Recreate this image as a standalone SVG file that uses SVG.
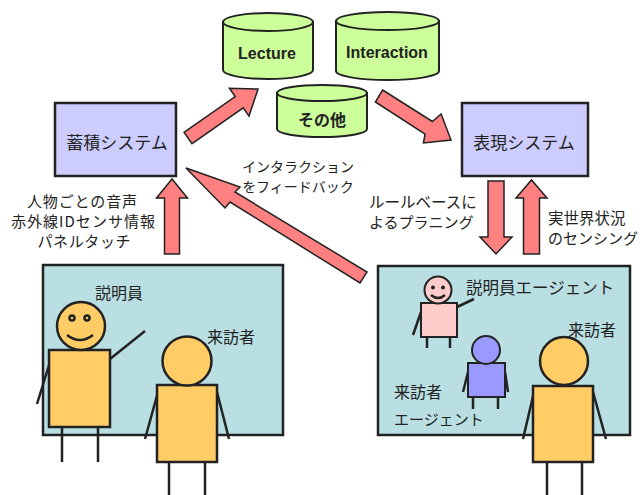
<svg xmlns="http://www.w3.org/2000/svg" width="640" height="495" viewBox="0 0 640 495">
  <style>
    .jp { font-family: "Noto Sans CJK JP", "Noto Sans", sans-serif; fill: #222; }
    .en { font-family: "Liberation Sans", Arial, sans-serif; font-weight: bold; fill: #222; }
    .sys { fill: #ccccff; stroke: #222; stroke-width: 2.5; }
    .db { fill: #ccff99; stroke: #222; stroke-width: 2; }
    .panel { fill: #b9dfe2; stroke: #222; stroke-width: 2.5; }
    .flow { fill: #ff8080; stroke: #222; stroke-width: 1.5; stroke-linejoin: miter; }
    .limb { stroke: #222; stroke-width: 2.5; fill: none; stroke-linecap: butt; }
    .human { fill: #ffcc66; stroke: #222; stroke-width: 2.5; }
    .guide { fill: #ffcccc; stroke: #222; stroke-width: 2; }
    .guest { fill: #9999ff; stroke: #222; stroke-width: 2; }
  </style>

  <!-- data stores -->
  <g id="db-lecture">
    <path class="db" d="M223,22 L223,70 A45,9 0 0 0 313,70 L313,22 Z"/>
    <ellipse class="db" cx="268" cy="22" rx="45" ry="9"/>
    <text class="en" x="267" y="59" font-size="16" text-anchor="middle">Lecture</text>
  </g>
  <g id="db-interaction">
    <path class="db" d="M336,21 L336,71 A51.5,9 0 0 0 439,71 L439,21 Z"/>
    <ellipse class="db" cx="387.5" cy="21" rx="51.5" ry="9"/>
    <text class="en" x="387" y="58" font-size="16" text-anchor="middle">Interaction</text>
  </g>
  <g id="db-other">
    <path class="db" d="M277,93 L277,129 A45,8 0 0 0 367,129 L367,93 Z"/>
    <ellipse class="db" cx="322" cy="93" rx="45" ry="8"/>
    <text class="jp" x="322" y="126" font-size="16" font-weight="bold" text-anchor="middle">その他</text>
  </g>

  <!-- systems -->
  <g id="store-system">
    <rect class="sys" x="55" y="103" width="121" height="73"/>
    <text class="jp" x="117" y="148.5" font-size="17" text-anchor="middle">蓄積システム</text>
  </g>
  <g id="render-system">
    <rect class="sys" x="462" y="103" width="126" height="73"/>
    <text class="jp" x="524" y="148.5" font-size="17" text-anchor="middle">表現システム</text>
  </g>

  <!-- flows between parts -->
  <g id="connectors">
    <polygon class="flow" points="184,132.3 235.2,96.5 229.4,88.3 258,89 249,116.1 243.2,107.9 192,143.7"/>
    <polygon class="flow" points="382.6,90 432.4,121.5 441.1,114 451,140 423.4,143 425.1,134 375.4,102"/>
    <polygon class="flow" points="164.5,254 164.5,198 156.5,198 172,179 187.5,198 179.5,198 179.5,254"/>
    <polygon class="flow" points="186,168 240,187 235,192 367,272 360,283 230,202 225,208"/>
    <polygon class="flow" points="488,181 504,181 504,237 512,237 496,254 480,237 488,237"/>
    <polygon class="flow" points="523.5,254 523.5,198 516,198 531.5,180 547,198 539.5,198 539.5,254"/>
  </g>

  <!-- flow labels -->
  <g id="labels">
    <text class="jp" x="82" y="207" font-size="15" text-anchor="middle" textLength="110" lengthAdjust="spacing">人物ごとの音声</text>
    <text class="jp" x="83" y="227" font-size="15" text-anchor="middle" textLength="144" lengthAdjust="spacing">赤外線IDセンサ情報</text>
    <text class="jp" x="84" y="247" font-size="15" text-anchor="middle" textLength="93" lengthAdjust="spacing">パネルタッチ</text>
    <text class="jp" x="298" y="172" font-size="14" text-anchor="middle">インタラクション</text>
    <text class="jp" x="298" y="192" font-size="14" text-anchor="middle">をフィードバック</text>
    <text class="jp" x="369" y="208" font-size="15.5">ルールベースに</text>
    <text class="jp" x="369" y="228" font-size="15">よるプラニング</text>
    <text class="jp" x="548" y="224" font-size="15.5">実世界状況</text>
    <text class="jp" x="548" y="244" font-size="15">のセンシング</text>
  </g>

  <!-- real exhibition space -->
  <g id="real-space">
    <rect class="panel" x="43" y="265" width="240" height="170"/>
    <text class="jp" x="119" y="299" font-size="16" text-anchor="middle">説明員</text>
    <text class="jp" x="207" y="343" font-size="16">来訪者</text>
    <!-- guide -->
    <line class="limb" x1="62" y1="427" x2="62" y2="462"/>
    <line class="limb" x1="98" y1="427" x2="98" y2="462"/>
    <line class="limb" x1="50" y1="362" x2="37" y2="404"/>
    <line class="limb" x1="110" y1="359" x2="145" y2="331"/>
    <rect class="human" x="49" y="350" width="61" height="77"/>
    <circle class="human" cx="81" cy="326" r="24"/>
    <circle class="human" cx="72" cy="318" r="2.5" stroke-width="1.8"/>
    <circle class="human" cx="87" cy="318" r="2.5" stroke-width="1.8"/>
    <path class="limb" d="M67,335 Q80,345 93,335"/>
    <!-- visitor -->
    <line class="limb" x1="169" y1="462" x2="169" y2="495"/>
    <line class="limb" x1="205" y1="462" x2="205" y2="495"/>
    <line class="limb" x1="158" y1="392" x2="145" y2="439"/>
    <line class="limb" x1="217" y1="392" x2="229" y2="439"/>
    <rect class="human" x="157" y="385" width="60" height="77"/>
    <circle class="human" cx="187" cy="361" r="24.5"/>
  </g>

  <!-- presented space -->
  <g id="virtual-space">
    <rect class="panel" x="378" y="266" width="252" height="169"/>
    <text class="jp" x="466" y="294" font-size="16.5">説明員エージェント</text>
    <text class="jp" x="568" y="336" font-size="16">来訪者</text>
    <text class="jp" x="394" y="398" font-size="16">来訪者</text>
    <text class="jp" x="394" y="425" font-size="15">エージェント</text>
    <!-- guide agent -->
    <line class="limb" x1="427" y1="337" x2="427" y2="348" stroke-width="2"/>
    <line class="limb" x1="450" y1="337" x2="450" y2="348" stroke-width="2"/>
    <line class="limb" x1="421" y1="312" x2="413" y2="335" stroke-width="2"/>
    <line class="limb" x1="457" y1="307" x2="474" y2="299" stroke-width="2"/>
    <rect class="guide" x="421" y="303" width="36" height="34"/>
    <circle class="guide" cx="438" cy="290" r="13.5"/>
    <circle cx="433" cy="287.5" r="2" fill="#222"/>
    <circle cx="443" cy="287.5" r="2" fill="#222"/>
    <path class="limb" d="M431,295 Q438,301 445,295" stroke-width="2"/>
    <!-- visitor agent -->
    <line class="limb" x1="473" y1="397" x2="473" y2="409" stroke-width="2"/>
    <line class="limb" x1="498" y1="397" x2="498" y2="409" stroke-width="2"/>
    <line class="limb" x1="468" y1="372" x2="463" y2="392" stroke-width="2"/>
    <line class="limb" x1="505" y1="372" x2="508" y2="392" stroke-width="2"/>
    <rect class="guest" x="468" y="363" width="37" height="34"/>
    <circle class="guest" cx="486" cy="350" r="14"/>
    <!-- visitor in front of the screen -->
    <line class="limb" x1="547" y1="462" x2="547" y2="495"/>
    <line class="limb" x1="582" y1="462" x2="582" y2="495"/>
    <line class="limb" x1="534" y1="392" x2="523" y2="439"/>
    <line class="limb" x1="593" y1="392" x2="606" y2="439"/>
    <rect class="human" x="533" y="386" width="60" height="76"/>
    <circle class="human" cx="564" cy="361" r="24"/>
  </g>
</svg>
